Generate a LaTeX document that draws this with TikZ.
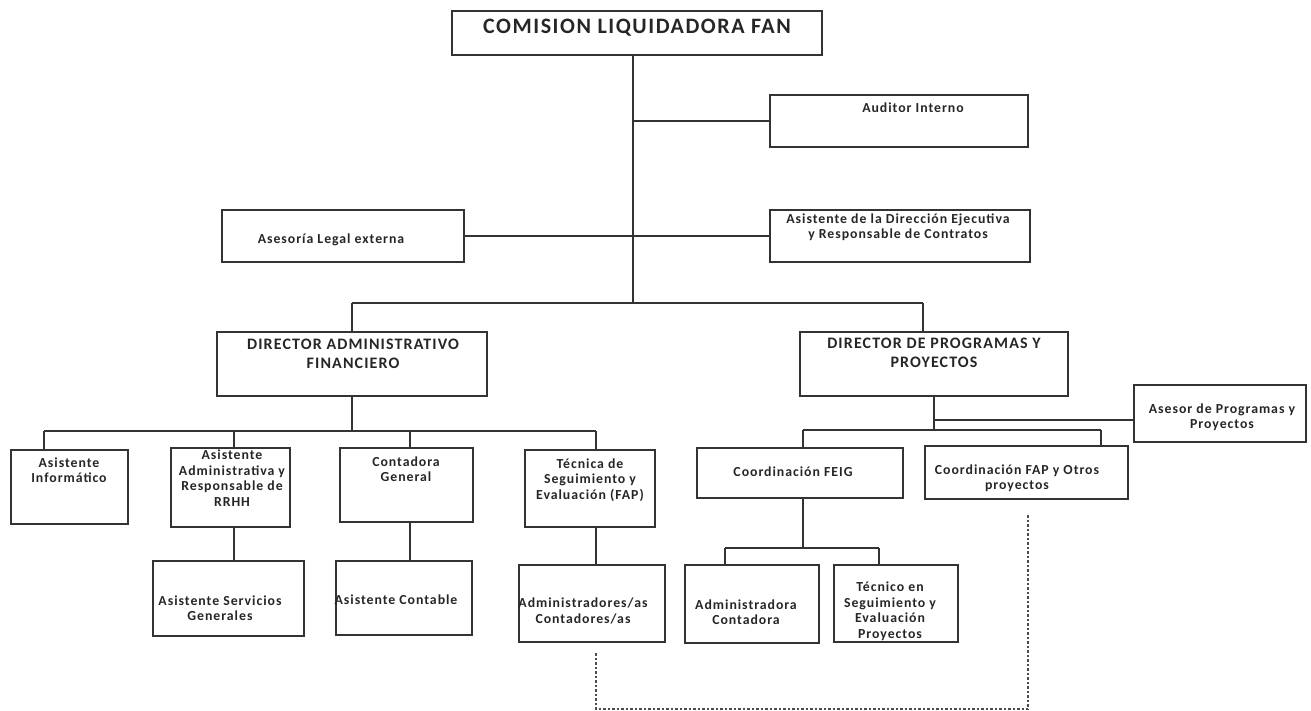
\documentclass[tikz,border=0pt]{standalone}
\usepackage{fontspec}
\setmainfont{Carlito}[LetterSpace=7]
\begin{document}
\begin{tikzpicture}[x=1pt,y=1pt,yscale=-1,
  box/.style={draw=black!80, line width=1.4pt, inner sep=0},
  txt/.style={font=\fontsize{13.8}{15.5}\selectfont\bfseries, text=black!85, align=center, inner sep=0},
  bigtxt/.style={txt, font=\fontsize{16}{19}\selectfont\bfseries},
  link/.style={draw=black!80, line width=1.2pt},
  dashlink/.style={draw=black!70, line width=1.2pt, dash pattern=on 2.5pt off 2pt}]
\useasboundingbox (0,0) rectangle (1311,711);

%Top level
\node[box, minimum width=370, minimum height=44] (com) at (637,33) {};
\node[txt, font=\fontsize{22}{24}\selectfont\bfseries] (comt) at (637,28) {COMISION LIQUIDADORA FAN};
\node[box, minimum width=258, minimum height=52] (aud) at (899,121) {};
\node[txt] (audt) at (913,108) {Auditor Interno};
\node[box, minimum width=242, minimum height=52] (leg) at (343,236) {};
\node[txt] (legt) at (331,240) {Asesoría Legal externa};
\node[box, minimum width=260, minimum height=52] (asd) at (900,236) {};
\node[txt] (asdt) at (898,227) {Asistente de la Dirección Ejecutiva\\y Responsable de Contratos};

%Directors
\node[box, minimum width=270, minimum height=64] (daf) at (352,364) {};
\node[bigtxt] (daft) at (353,354) {DIRECTOR ADMINISTRATIVO\\FINANCIERO};
\node[box, minimum width=268, minimum height=64] (dpp) at (934,364) {};
\node[bigtxt] (dppt) at (934,353) {DIRECTOR DE PROGRAMAS Y\\PROYECTOS};

%Left branch
\node[box, minimum width=117, minimum height=74] (inf) at (69.5,487) {};
\node[txt] (inft) at (69,470) {Asistente\\Informático};
\node[box, minimum width=119, minimum height=79] (aar) at (230.5,487.5) {};
\node[txt] (aart) at (232,478) {Asistente\\Administrativa y\\Responsable de\\RRHH};
\node[box, minimum width=133, minimum height=74] (cog) at (406.5,485) {};
\node[txt] (cogt) at (406,469) {Contadora\\General};
\node[box, minimum width=130, minimum height=77] (tse) at (590,488.5) {};
\node[txt] (tset) at (590,480) {Técnica de\\Seguimiento y\\Evaluación (FAP)};
\node[box, minimum width=151, minimum height=75] (asg) at (228.5,598.5) {};
\node[txt] (asgt) at (220,608) {Asistente Servicios\\Generales};
\node[box, minimum width=136, minimum height=74] (aco) at (404,598) {};
\node[txt] (acot) at (396,600) {Asistente Contable};
\node[box, minimum width=146, minimum height=77] (adc) at (592,603.5) {};
\node[txt] (adct) at (583,611) {Administradores/as\\Contadores/as};

%Right branch
\node[box, minimum width=172, minimum height=57] (asp) at (1220,413.5) {};
\node[txt] (aspt) at (1222,417) {Asesor de Programas y\\Proyectos};
\node[box, minimum width=206, minimum height=50] (fei) at (800,473) {};
\node[txt] (feit) at (793,472) {Coordinación FEIG};
\node[box, minimum width=203, minimum height=53] (fap) at (1026.5,472.5) {};
\node[txt] (fapt) at (1017,478) {Coordinación FAP y Otros\\proyectos};
\node[box, minimum width=134, minimum height=78] (adm) at (752,604) {};
\node[txt] (admt) at (746,612) {Administradora\\Contadora};
\node[box, minimum width=124, minimum height=77] (tes) at (896,603.5) {};
\node[txt] (test) at (890,611) {Técnico en\\Seguimiento y\\Evaluación\\Proyectos};

%Junctions
\coordinate (trk) at (633,303);
\coordinate (b1) at (352,303);
\coordinate (b2) at (923,303);
\coordinate (lbus) at (352,431);
\coordinate (l1) at (44,431);
\coordinate (l2) at (234,431);
\coordinate (l3) at (410,431);
\coordinate (l4) at (596,431);
\coordinate (ra) at (934,420);
\coordinate (rbus) at (934,430);
\coordinate (r1) at (803,430);
\coordinate (r2) at (1101,430);
\coordinate (fbus) at (803,548);
\coordinate (f1) at (725,548);
\coordinate (f2) at (879,548);
\coordinate (da) at (596,653);
\coordinate (dc) at (1028,709);
\coordinate (db) at (1028,513);

%Connectors
\draw[link] (com.south -| trk) -- (trk);
\draw[link] (aud.west -| trk) -- (aud.west);
\draw[link] (leg.east) -- (asd.west);
\draw[link] (b1) -- (b2);
\draw[link] (b1) -- (b1 |- daf.north);
\draw[link] (b2) -- (b2 |- dpp.north);
\draw[link] (daf.south) -- (lbus);
\draw[link] (l1) -- (l4);
\foreach \c/\n in {l1/inf,l2/aar,l3/cog,l4/tse}
  \draw[link] (\c) -- (\c |- \n.north);
\draw[link] (aar.south -| l2) -- (asg.north -| l2);
\draw[link] (cog.south -| l3) -- (aco.north -| l3);
\draw[link] (tse.south -| l4) -- (adc.north -| l4);
\draw[link] (dpp.south) -- (rbus);
\draw[link] (ra) -- (ra -| asp.west);
\draw[link] (r1) -- (r2);
\foreach \c/\n in {r1/fei,r2/fap}
  \draw[link] (\c) -- (\c |- \n.north);
\draw[link] (fei.south -| fbus) -- (fbus);
\draw[link] (f1) -- (f2);
\foreach \c/\n in {f1/adm,f2/tes}
  \draw[link] (\c) -- (\c |- \n.north);
\draw[dashlink] (da) |- (dc) -- (db);

\end{tikzpicture}
\end{document}
